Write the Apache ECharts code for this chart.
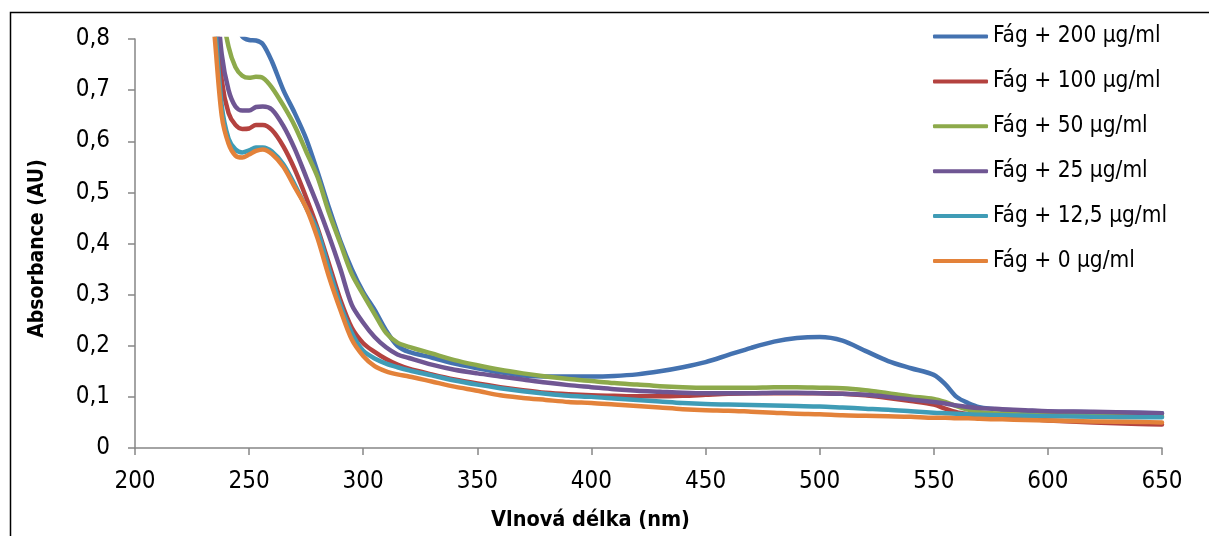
<!DOCTYPE html>
<html>
<head>
<meta charset="utf-8">
<script src="https://cdn.jsdelivr.net/npm/echarts@6/dist/echarts.min.js"></script>
<style>
  html, body { margin: 0; padding: 0; background: #fff; }
  #main { width: 1209px; height: 536px; }
</style>
</head>
<body>
<div id="main"></div>
<script>
// wavelengths (nm), shared by every series
const wavelength = [230, 235, 238, 241, 244, 247, 250, 253, 256, 260, 265, 270, 275, 280, 285, 290, 295, 300, 305, 310, 315, 320, 330, 340, 350, 360, 370, 380, 390, 400, 410, 420, 430, 440, 450, 460, 470, 480, 490, 500, 510, 520, 530, 540, 550, 555, 560, 565, 570, 580, 590, 600, 620, 640, 650]

const seriesNames = ["Fág + 200 μg/ml", "Fág + 100 μg/ml", "Fág + 50 μg/ml", "Fág + 25 μg/ml", "Fág + 12,5 μg/ml", "Fág + 0 μg/ml"]

const fag200 = [1.6, 1.3, 1.1, 0.95, 0.84, 0.805, 0.798, 0.797, 0.79, 0.756, 0.7, 0.655, 0.605, 0.54, 0.47, 0.405, 0.35, 0.305, 0.27, 0.23, 0.2, 0.188, 0.177, 0.165, 0.156, 0.148, 0.142, 0.14, 0.14, 0.14, 0.141, 0.144, 0.15, 0.158, 0.168, 0.182, 0.196, 0.208, 0.215, 0.217, 0.21, 0.19, 0.17, 0.156, 0.143, 0.125, 0.1, 0.088, 0.08, 0.075, 0.073, 0.071, 0.07, 0.069, 0.068]
const fag100 = [1.1, 0.88, 0.72, 0.655, 0.632, 0.624, 0.625, 0.632, 0.632, 0.622, 0.59, 0.545, 0.49, 0.43, 0.36, 0.29, 0.235, 0.205, 0.188, 0.174, 0.163, 0.155, 0.144, 0.134, 0.126, 0.119, 0.113, 0.108, 0.105, 0.103, 0.102, 0.101, 0.101, 0.102, 0.104, 0.106, 0.107, 0.107, 0.107, 0.107, 0.106, 0.103, 0.098, 0.092, 0.085, 0.077, 0.07, 0.066, 0.063, 0.06, 0.057, 0.054, 0.05, 0.047, 0.046]
const fag50 = [1.3, 1.0, 0.86, 0.785, 0.745, 0.728, 0.724, 0.726, 0.724, 0.705, 0.67, 0.63, 0.58, 0.53, 0.46, 0.4, 0.34, 0.3, 0.262, 0.225, 0.206, 0.198, 0.185, 0.172, 0.162, 0.153, 0.146, 0.14, 0.135, 0.131, 0.127, 0.124, 0.121, 0.119, 0.118, 0.118, 0.118, 0.119, 0.119, 0.118, 0.117, 0.113, 0.107, 0.101, 0.096, 0.09, 0.082, 0.075, 0.07, 0.067, 0.065, 0.064, 0.063, 0.062, 0.062]
const fag25 = [1.1, 0.92, 0.77, 0.7, 0.668, 0.66, 0.66, 0.667, 0.668, 0.662, 0.63, 0.585, 0.53, 0.475, 0.415, 0.35, 0.28, 0.245, 0.217, 0.197, 0.183, 0.176, 0.163, 0.153, 0.146, 0.14, 0.134, 0.128, 0.123, 0.119, 0.115, 0.112, 0.11, 0.108, 0.107, 0.107, 0.107, 0.108, 0.108, 0.107, 0.106, 0.104, 0.1, 0.095, 0.09, 0.087, 0.083, 0.08, 0.078, 0.076, 0.074, 0.072, 0.071, 0.069, 0.068]
const fag12 = [1.05, 0.83, 0.67, 0.605, 0.584, 0.578, 0.582, 0.588, 0.588, 0.58, 0.555, 0.515, 0.47, 0.425, 0.35, 0.28, 0.225, 0.19, 0.175, 0.165, 0.158, 0.152, 0.142, 0.132, 0.124, 0.117, 0.111, 0.106, 0.102, 0.1, 0.097, 0.094, 0.091, 0.088, 0.086, 0.085, 0.084, 0.083, 0.082, 0.081, 0.079, 0.077, 0.075, 0.072, 0.069, 0.068, 0.067, 0.066, 0.065, 0.064, 0.063, 0.062, 0.061, 0.06, 0.06]
const fag0 = [1.05, 0.8, 0.65, 0.595, 0.572, 0.568, 0.574, 0.581, 0.584, 0.575, 0.55, 0.51, 0.47, 0.41, 0.335, 0.27, 0.212, 0.18, 0.16, 0.15, 0.144, 0.14, 0.13, 0.12, 0.112, 0.103, 0.098, 0.094, 0.09, 0.088, 0.085, 0.082, 0.079, 0.076, 0.074, 0.073, 0.071, 0.069, 0.067, 0.066, 0.064, 0.063, 0.062, 0.061, 0.059, 0.059, 0.058, 0.058, 0.057, 0.056, 0.055, 0.054, 0.052, 0.051, 0.05]

const seriesValues = [fag200, fag100, fag50, fag25, fag12, fag0]
const colors = ["#4472B0", "#B4423F", "#8DAA4B", "#6F5693", "#3F9CB6", "#E3823A"]

// narrow font, the picture's text is tall and condensed
const FONT = "'Liberation Sans Narrow', 'DejaVu Sans Condensed', Lato, sans-serif"

const chart = echarts.init(document.getElementById("main"))

const option = {
  backgroundColor: "#fff",
  animation: false,
  color: colors,
  grid: { left: 135, right: 47, top: 39, bottom: 86 },
  graphic: [
    {
      type: "rect",
      silent: true,
      shape: { x: 10.5, y: 12.5, width: 1400, height: 800 },
      style: { fill: "none", stroke: "#000", lineWidth: 1.5 },
    },
  ],
  legend: {
    orient: "vertical",
    left: 933,
    top: 25,
    padding: 0,
    icon: "roundRect",
    itemWidth: 55,
    itemHeight: 4,
    itemGap: 21.9,
    textStyle: { fontFamily: FONT, fontSize: 22.5, color: "#000", lineHeight: 22 },
    data: seriesNames,
  },
  xAxis: {
    type: "value",
    min: 200,
    max: 650,
    interval: 50,
    name: "Vlnová délka (nm)",
    nameLocation: "middle",
    nameGap: 61,
    nameTextStyle: {
      fontFamily: FONT,
      fontSize: 21.5,
      fontWeight: "bold",
      color: "#000",
      padding: [0, 116, 0, 0],
    },
    axisLine: { onZero: false, lineStyle: { color: "#868686", width: 1.5 } },
    axisTick: { show: true, length: 7, lineStyle: { color: "#868686", width: 1.5 } },
    axisLabel: { fontFamily: FONT, fontSize: 24, color: "#000", margin: 22 },
    splitLine: { show: false },
  },
  yAxis: {
    type: "value",
    min: 0,
    max: 0.8,
    interval: 0.1,
    name: "Absorbance (AU)",
    nameLocation: "middle",
    nameGap: 87,
    nameTextStyle: {
      fontFamily: FONT,
      fontSize: 21,
      fontWeight: "bold",
      color: "#000",
      padding: [0, 10, 0, 0],
    },
    axisLine: { show: true, lineStyle: { color: "#868686", width: 1.5 } },
    axisTick: { show: true, length: 7, lineStyle: { color: "#868686", width: 1.5 } },
    axisLabel: {
      fontFamily: FONT,
      fontSize: 24,
      color: "#000",
      margin: 25,
      formatter: v => (v === 0 ? "0" : v.toFixed(1).replace(".", ",")),
    },
    splitLine: { show: false },
  },
  series: seriesNames.map((name, i) => ({
    name: name,
    type: "line",
    smooth: 0.3,
    showSymbol: false,
    symbol: "none",
    clip: true,
    lineStyle: { width: 4.5, color: colors[i], cap: "round", join: "round" },
    data: wavelength.map((w, j) => [w, seriesValues[i][j]]),
  })),
}

chart.setOption(option)
</script>
</body>
</html>
